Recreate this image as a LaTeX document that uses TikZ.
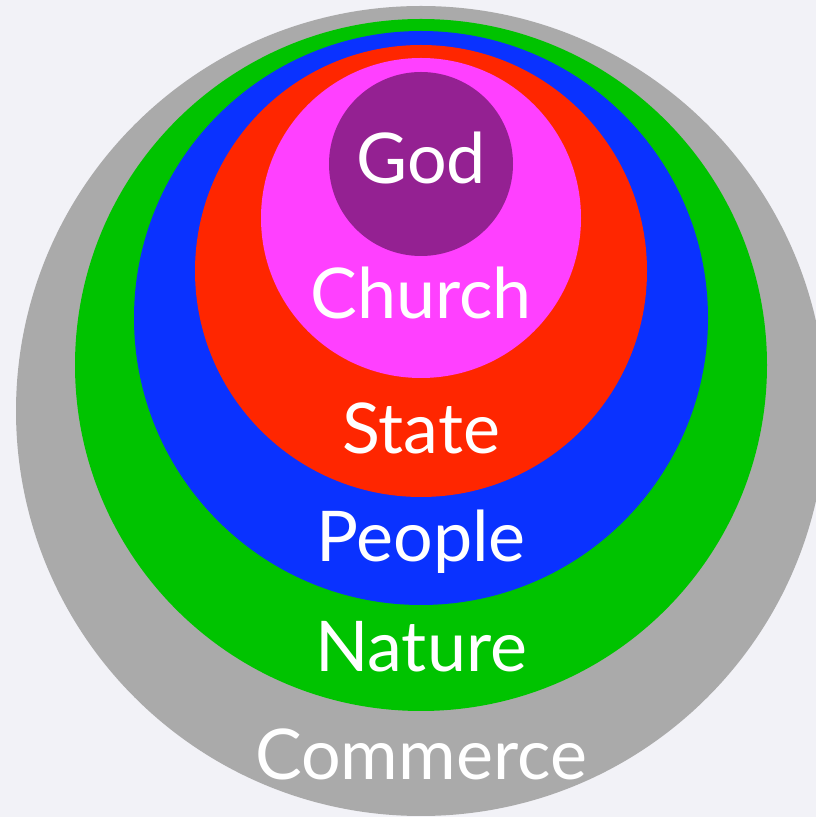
\documentclass[tikz,border=0pt]{standalone}
\usepackage{fontspec}
\setmainfont{Lato}
\definecolor{bg}{HTML}{F2F2F7}
\definecolor{cgray}{HTML}{AAAAAA}
\definecolor{cgreen}{HTML}{00C300}
\definecolor{cblue}{HTML}{0A32FF}
\definecolor{cred}{HTML}{FF2600}
\definecolor{cmag}{HTML}{FF40FF}
\definecolor{cpurp}{HTML}{942192}
\begin{document}
\begin{tikzpicture}[x=1pt,y=1pt,
  ring/.style={draw=none},
  lbl/.style={text=white,anchor=base,inner sep=0pt,font=\fontsize{70}{70}\selectfont}]
\fill[bg] (0,0) rectangle (816,817);
\useasboundingbox (0,0) rectangle (816,817);
\begin{scope}
\clip (0,0) rectangle (816,817);
\fill[cgray] (421,406) circle (405);
\fill[cgreen] (421,452) circle (346);
\fill[cblue] (421,499) circle (287);
\fill[cred] (421,546) circle (226);
\fill[cmag] (421,599) circle (160);
\fill[cpurp] (421,653) circle (92);
\end{scope}
\node[lbl] (god) at (421,633) {God};
\node[lbl] (church) at (421,498) {Church};
\node[lbl] (state) at (421,363) {State};
\node[lbl] (people) at (421,255) {People};
\node[lbl] (nature) at (421,145) {Nature};
\node[lbl] (commerce) at (421,37) {Commerce};
\end{tikzpicture}
\end{document}
